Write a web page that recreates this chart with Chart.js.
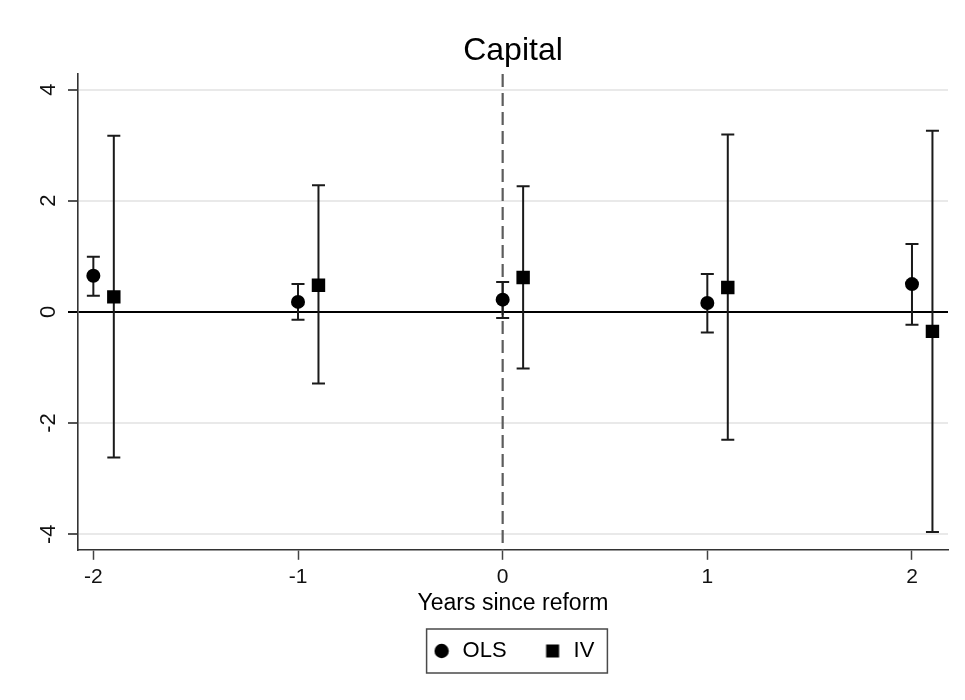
<!DOCTYPE html>
<html>
<head>
<meta charset="utf-8">
<script src="https://cdn.jsdelivr.net/npm/chart.js@4/dist/chart.umd.min.js"></script>
<style>
html,body{margin:0;padding:0;background:#fff;}
#wrap{width:965px;height:700px;}
</style>
</head>
<body>
<div id="wrap"><canvas id="c" width="965" height="700"></canvas></div>
<script>
// ---- data ----
const TITLE = 'Capital';
const X_LABEL = 'Years since reform';
const X_TICKS = [-2, -1, 0, 1, 2];
const Y_TICKS = [-4, -2, 0, 2, 4];
const X_MIN = -2.075, X_MAX = 2.176;
const Y_MIN = -4.28, Y_MAX = 4.28;
const REFERENCE_X = 0;

const OLS_X  = [-2, -1, 0, 1, 2];
const OLS_Y  = [0.65, 0.18, 0.22, 0.16, 0.50];
const OLS_LO = [0.29, -0.14, -0.11, -0.37, -0.23];
const OLS_HI = [0.99, 0.50, 0.54, 0.68, 1.22];

const IV_X  = [-1.9, -0.9, 0.1, 1.1, 2.1];
const IV_Y  = [0.27, 0.48, 0.62, 0.44, -0.35];
const IV_LO = [-2.62, -1.29, -1.02, -2.30, -3.96];
const IV_HI = [3.17, 2.28, 2.26, 3.19, 3.26];

const SERIES_NAMES = ['OLS', 'IV'];

// ---- style ----
const FONT = "'Liberation Sans', Arial, Helvetica, sans-serif";
Chart.defaults.font.family = FONT;
Chart.defaults.color = '#111';

function makeIcon(kind) {
  const c = document.createElement('canvas');
  c.width = 16; c.height = 16;
  const g = c.getContext('2d');
  g.fillStyle = '#000';
  if (kind === 'circle') {
    g.beginPath(); g.arc(8, 8, 7.2, 0, Math.PI * 2); g.fill();
  } else {
    g.fillRect(1.5, 1.5, 13, 13);
  }
  return c;
}
const LEGEND_ICONS = [makeIcon('circle'), makeIcon('square')];

const errorBars = {
  id: 'errorBars',
  beforeDatasetsDraw(chart) {
    const {ctx, scales: {x, y}, chartArea} = chart;
    // dashed reference line
    ctx.save();
    const rx = x.getPixelForValue(REFERENCE_X);
    ctx.strokeStyle = '#5c5c5c';
    ctx.lineWidth = 2.2;
    ctx.setLineDash([13, 6]);
    ctx.beginPath();
    ctx.moveTo(rx, chartArea.top);
    ctx.lineTo(rx, chartArea.bottom);
    ctx.stroke();
    ctx.restore();
    // error bars
    ctx.save();
    ctx.strokeStyle = '#1a1a1a';
    ctx.lineWidth = 2;
    const cap = 6.5;
    chart.data.datasets.forEach(ds => {
      ds.data.forEach((p, i) => {
        const px = x.getPixelForValue(p.x);
        const lo = y.getPixelForValue(ds.errLo[i]);
        const hi = y.getPixelForValue(ds.errHi[i]);
        ctx.beginPath();
        ctx.moveTo(px, lo); ctx.lineTo(px, hi);
        ctx.moveTo(px - cap, lo); ctx.lineTo(px + cap, lo);
        ctx.moveTo(px - cap, hi); ctx.lineTo(px + cap, hi);
        ctx.stroke();
      });
    });
    ctx.restore();
  }
};

const legendFrame = {
  id: 'legendFrame',
  afterDraw(chart) {
    const lg = chart.legend;
    if (!lg || !lg.legendHitBoxes || !lg.legendHitBoxes.length) return;
    const hb = lg.legendHitBoxes;
    const first = hb[0], last = hb[hb.length - 1];
    const cy = first.top + first.height / 2;
    const left = first.left - 5;
    const right = last.left + last.width + 13;
    const ctx = chart.ctx;
    ctx.save();
    ctx.strokeStyle = '#4a4a4a';
    ctx.lineWidth = 1.5;
    ctx.strokeRect(left, cy - 22, right - left, 44);
    ctx.restore();
  }
};

const ticksFrom = arr => scale => { scale.ticks = arr.map(v => ({value: v})); };

new Chart(document.getElementById('c'), {
  type: 'scatter',
  data: {
    datasets: [
      {
        label: SERIES_NAMES[0],
        data: OLS_X.map((x, i) => ({x, y: OLS_Y[i]})),
        errLo: OLS_LO, errHi: OLS_HI,
        pointStyle: 'circle', pointRadius: 7,
        backgroundColor: '#000', borderColor: '#000', borderWidth: 0
      },
      {
        label: SERIES_NAMES[1],
        data: IV_X.map((x, i) => ({x, y: IV_Y[i]})),
        errLo: IV_LO, errHi: IV_HI,
        pointStyle: 'rect', pointRadius: 9.5,
        backgroundColor: '#000', borderColor: '#000', borderWidth: 0
      }
    ]
  },
  options: {
    responsive: false,
    animation: false,
    devicePixelRatio: 1,
    layout: {padding: {left: 23.6, right: 17, top: 0, bottom: 28}},
    plugins: {
      title: {
        display: true, text: TITLE, fullSize: false, color: '#000',
        font: {family: FONT, size: 32, weight: 'normal'},
        padding: {top: 32.4, bottom: 3.2}
      },
      legend: {
        position: 'bottom', fullSize: false,
        labels: {
          usePointStyle: true, pointStyleWidth: 20, padding: 36,
          color: '#000', font: {family: FONT, size: 22},
          generateLabels(chart) {
            const items = Chart.defaults.plugins.legend.labels.generateLabels(chart);
            items.forEach((it, i) => { it.pointStyle = LEGEND_ICONS[i]; });
            return items;
          }
        }
      },
      tooltip: {enabled: false}
    },
    scales: {
      x: {
        type: 'linear', min: X_MIN, max: X_MAX,
        afterBuildTicks: ticksFrom(X_TICKS),
        grid: {drawOnChartArea: false, tickLength: 10, tickWidth: 1.5, tickColor: '#444'},
        border: {color: '#333', width: 1.6},
        ticks: {padding: 5, color: '#111', font: {size: 21}},
        title: {
          display: true, text: X_LABEL, color: '#000',
          font: {size: 23}, padding: {top: -4.8, bottom: -13.8}
        }
      },
      y: {
        type: 'linear', min: Y_MIN, max: Y_MAX,
        afterBuildTicks: ticksFrom(Y_TICKS),
        grid: {
          color: c => (c.tick && c.tick.value === 0) ? '#000' : '#e9e9e9',
          lineWidth: 2,
          tickLength: 10, tickWidth: 2,
          tickColor: c => (c.tick && c.tick.value === 0) ? '#000' : '#555'
        },
        border: {color: '#333', width: 1.6},
        ticks: {minRotation: 90, maxRotation: 90, crossAlign: 'center', padding: 9, color: '#111', font: {size: 22}}
      }
    }
  },
  plugins: [errorBars, legendFrame]
});
</script>
</body>
</html>
